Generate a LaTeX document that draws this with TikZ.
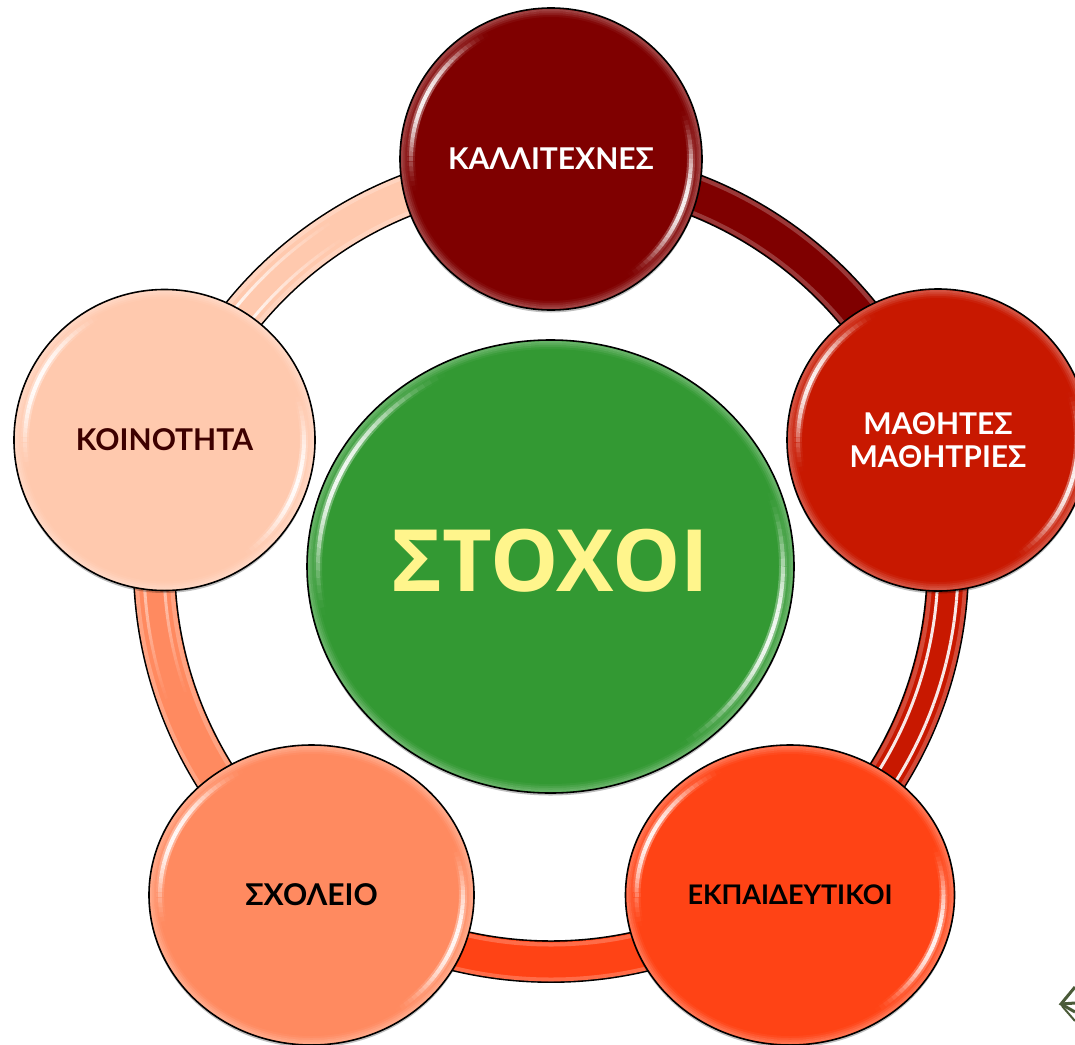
\documentclass[tikz,border=0pt]{standalone}
\usepackage{fontspec}
\setmainfont{Lato}
\newfontfamily\hubfont{Open Sans}
\usetikzlibrary{shapes.geometric,shadows,calc}
\definecolor{kallicol}{HTML}{7F0000}
\definecolor{mathicol}{HTML}{C81800}
\definecolor{ekpcol}{HTML}{FF4315}
\definecolor{scholcol}{HTML}{FF8A60}
\definecolor{koincol}{HTML}{FFC9AE}
\definecolor{hubcol}{HTML}{339933}
\definecolor{hubtext}{HTML}{FFF58C}
\definecolor{kointext}{HTML}{3D0000}
\definecolor{logocol}{HTML}{4A5A38}
\tikzset{
    bubble/.style={ellipse,draw=black,line width=1.6pt,inner sep=0pt,fill=#1,align=center,
        font=\fontsize{30}{33}\selectfont\bfseries,
        drop shadow={shadow xshift=0pt,shadow yshift=-2.5pt,opacity=0.25,fill=black}},
    ringlink/.style={draw=black,line width=1.6pt,double=#1,double distance=39.5pt,bend left=36,looseness=0.94},
    ringrim/.style={white,opacity=0.22,line width=4pt}
}
\newcommand{\glintarc}[6]{
    \pgfmathsetmacro{\gx}{#2-11}
    \pgfmathsetmacro{\gy}{#3-11}
    \foreach \a in {-40,-38,...,38} {
        \pgfmathsetmacro{\op}{#6*cos(90*(\a+1)/40)*cos(90*(\a+1)/40)}
        \pgfmathsetmacro{\st}{#4+\a}
        \draw[white,opacity=\op,line width=#5pt] (#1.center) ++(\st:\gx pt and \gy pt)
            arc[start angle=\st,delta angle=2,x radius=\gx pt,y radius=\gy pt];
    }
}
\newcommand{\glint}[3]{
    \foreach \i in {1,...,4} {
        \pgfmathsetmacro{\op}{0.32-0.07*\i}
        \pgfmathsetmacro{\rx}{#2-2*\i}
        \pgfmathsetmacro{\ry}{#3-2*\i}
        \draw[white,opacity=\op,line width=2pt] (#1.center) ellipse[x radius=\rx pt,y radius=\ry pt];
    }
    \foreach \p in {155,-18} {
        \glintarc{#1}{#2}{#3}{\p}{8}{0.35}
        \glintarc{#1}{#2}{#3}{\p}{4}{0.9}
    }
}
\newcommand{\ringglint}[5]{
    \pgfmathsetmacro{\rr}{397+#3}
    \pgfmathsetmacro{\dl}{(#2-#1)/20}
    \foreach \a in {0,...,19} {
        \pgfmathsetmacro{\op}{#4+(#5-#4)*\a/19}
        \pgfmathsetmacro{\st}{#1+(#2-#1)*\a/20}
        \draw[white,opacity=\op,line width=3pt] (hub) ++(\st:\rr pt)
            arc[start angle=\st,delta angle=\dl,radius=\rr pt];
    }
}
\begin{document}
\begin{tikzpicture}[x=1pt,y=-1pt]
    \clip (0,0) rectangle (1075,1044);
    \coordinate (hub) at (551,565);
    \coordinate (ringkalli) at ($(hub)+(90:397pt)$);
    \coordinate (ringmathi) at ($(hub)+(18:397pt)$);
    \coordinate (ringekp) at ($(hub)+(-54:397pt)$);
    \coordinate (ringschol) at ($(hub)+(-126:397pt)$);
    \coordinate (ringkoin) at ($(hub)+(162:397pt)$);

    \draw[ringlink=kallicol] (ringkalli) to (ringmathi);
    \draw[ringlink=mathicol] (ringmathi) to (ringekp);
    \draw[ringlink=ekpcol] (ringekp) to (ringschol);
    \draw[ringlink=scholcol] (ringschol) to (ringkoin);
    \draw[ringlink=koincol] (ringkoin) to (ringkalli);
    \draw[ringrim] (hub) circle[radius=414.5pt];
    \draw[ringrim] (hub) circle[radius=379.5pt];

    \foreach \r in {-10,10} {
        \ringglint{10}{-50}{\r}{0.9}{0.9}
        \ringglint{183}{200}{\r}{0.5}{0}
        \ringglint{142}{122}{\r}{0.85}{0}
    }

    \node[bubble=kallicol,text=white,minimum width=302pt,minimum height=302pt] (kalli) at (551,159) {ΚΑΛΛΙΤΕΧΝΕΣ};
    \node[bubble=mathicol,text=white,minimum width=302pt,minimum height=302pt] (mathi) at (938,440) {ΜΑΘΗΤΕΣ\\ΜΑΘΗΤΡΙΕΣ};
    \node[bubble=ekpcol,text=black,minimum width=329pt,minimum height=300pt,
        font=\fontsize{27}{33}\selectfont\bfseries] (ekp) at (790,895) {ΕΚΠΑΙΔΕΥΤΙΚΟΙ};
    \node[bubble=scholcol,text=black,minimum width=325pt,minimum height=300pt] (schol) at (311.5,895) {ΣΧΟΛΕΙΟ};
    \node[bubble=koincol,text=kointext,minimum width=301pt,minimum height=301pt] (koin) at (164.5,440) {ΚΟΙΝΟΤΗΤΑ};
    \node[bubble=hubcol,text=hubtext,minimum width=487pt,minimum height=453pt,text depth=12pt,
        font=\hubfont\fontsize{86}{86}\selectfont\bfseries] (stoxoi) at (550.5,566.5) {ΣΤΟΧΟΙ};

    \glint{kalli}{151}{151}
    \glint{mathi}{151}{151}
    \glint{ekp}{164.5}{150}
    \glint{schol}{162.5}{150}
    \glint{koin}{150.5}{150.5}
    \glint{stoxoi}{243.5}{226.5}

    \draw[logocol,line width=3pt] (1075,987) -- (1061,1004) -- (1075,1012);
    \draw[logocol,line width=3pt] (1061,1004) -- (1075,1003);
    \draw[logocol,line width=2pt] (1062,1006) -- (1075,1021);
\end{tikzpicture}
\end{document}
